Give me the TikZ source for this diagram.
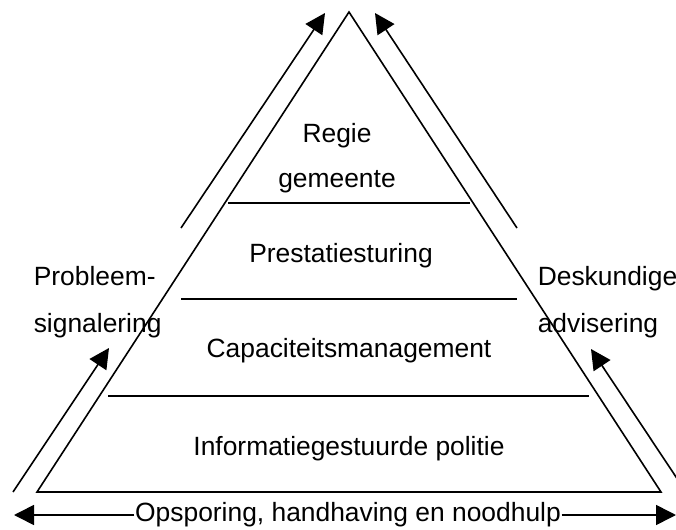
\documentclass[tikz,border=0pt]{standalone}
\usepackage{fontspec}
\setmainfont{Liberation Sans}
\usetikzlibrary{arrows.meta}

\begin{document}
\begin{tikzpicture}[
    x=0.5pt, y=-0.5pt,
    line width=0.8pt,
    layer/.style={font=\fontsize{13.2}{15}\selectfont, inner sep=0pt, anchor=base},
    flow/.style={-{Triangle[length=10pt,width=10pt]}}
]
    % CANVAS: 676 x 530, units of half a point, y running downwards
    \useasboundingbox (0,0) rectangle (676,530);

    % pyramid
    \coordinate (top) at (349,12);
    \coordinate (bl) at (37,492);
    \coordinate (br) at (661,492);
    \draw (bl) -- (top) -- (br) -- cycle;

    % layer separators
    \coordinate (s1l) at (228,203); \coordinate (s1r) at (470,203);
    \coordinate (s2l) at (181,299); \coordinate (s2r) at (517,299);
    \coordinate (s3l) at (108,396); \coordinate (s3r) at (589,396);
    \draw (s1l) -- (s1r);
    \draw (s2l) -- (s2r);
    \draw (s3l) -- (s3r);

    % layers, top to bottom
    \node[layer] (regie) at (337,142) {Regie};
    \node[layer] (gemeente) at (337,187) {gemeente};
    \node[layer] (prestatie) at (341,262) {Prestatiesturing};
    \node[layer] (capaciteit) at (349,357) {Capaciteitsmanagement};
    \node[layer] (informatie) at (349,455) {Informatiegestuurde politie};

    % side labels
    \node[layer, anchor=base west] (probleem) at (33,285) {Probleem-};
    \node[layer, anchor=base west] (signalering) at (33,332) {signalering};
    \node[layer, anchor=base west] (deskundige) at (537,285) {Deskundige};
    \node[layer, anchor=base west] (advisering) at (537,332) {advisering};

    % arrows along the left side
    \coordinate (ll1) at (13,492); \coordinate (ll2) at (109,348);
    \coordinate (lu1) at (181,228); \coordinate (lu2) at (325,13);
    \draw[flow] (ll1) -- (ll2);
    \draw[flow] (lu1) -- (lu2);

    % arrows along the right side
    \coordinate (rl1) at (686,492); \coordinate (rl2) at (591,349);
    \coordinate (ru1) at (517,228); \coordinate (ru2) at (375,13);
    \draw[flow] (rl1) -- (rl2);
    \draw[flow] (ru1) -- (ru2);

    % base of the pyramid
    \node[layer, anchor=center] (basis) at (348,515) {Opsporing, handhaving en noodhulp};
    \coordinate (basisl) at (14,515);
    \coordinate (basisr) at (676,515);
    \draw[flow] (basis.west) -- (basisl);
    \draw[flow] (basis.east) -- (basisr);
\end{tikzpicture}
\end{document}
